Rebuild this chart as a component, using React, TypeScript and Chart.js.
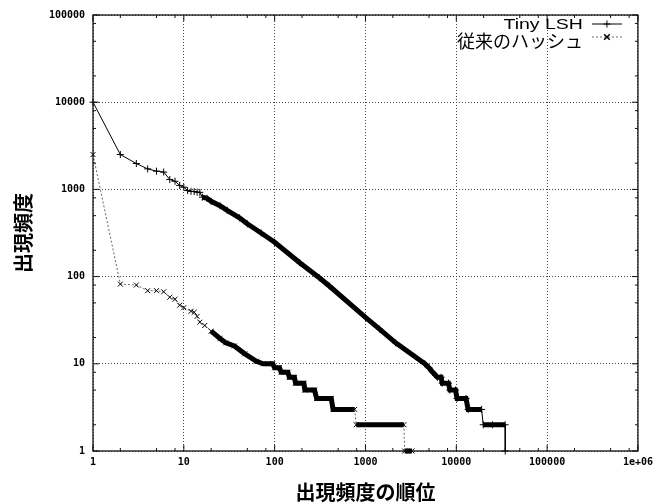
import React, { useEffect, useRef } from 'react';
import { Chart, registerables } from 'chart.js';

Chart.register(...registerables);

// ---------- data ----------
const TINY_LABEL = 'Tiny LSH';
const HASH_LABEL = '従来のハッシュ';
const X_TITLE = '出現頻度の順位';
const Y_TITLE = '出現頻度';

const X_TICKS = [1, 10, 100, 1000, 10000, 100000, 1000000];
const X_TICK_LABELS = ['1', '10', '100', '1000', '10000', '100000', '1e+06'];
const Y_TICKS = [1, 10, 100, 1000, 10000, 100000];
const Y_TICK_LABELS = ['1', '10', '100', '1000', '10000', '100000'];
const MINOR_MULTIPLIERS = [2, 5, 8];

const TINY_RANKS = [
  1, 2, 3, 4, 5, 6, 7, 8, 9, 10, 11, 12, 13, 14, 15, 16, 18, 20, 25, 30, 41, 50, 71, 100,
  189, 310, 400, 1000, 1430, 2150, 4500, 5000, 5500, 6200, 6800, 7000, 8200, 8500, 9800,
  10200, 12800, 13500, 19000, 19800, 25000, 34500, 34600,
];
const TINY_FREQ = [
  10000, 2510, 1980, 1720, 1620, 1580, 1300, 1240, 1110, 1060, 970, 950, 945, 930, 925, 815,
  790, 730, 650, 575, 472, 403, 316, 248, 144, 97, 78, 34, 25, 17.4, 10, 9, 8, 7, 7, 6, 6, 5, 5,
  4, 4, 3, 3, 2, 2, 2, 1,
];

const HASH_RANKS = [
  1, 2, 3, 4, 5, 6, 7, 8, 9, 10, 12, 13, 14, 15, 17, 20, 25, 29, 36, 47, 63, 75, 95, 100, 113,
  118, 140, 145, 165, 170, 210, 215, 275, 290, 420, 440, 760, 790, 2650, 2700, 3250,
];
const HASH_FREQ = [
  2510, 82, 80, 69, 69, 67, 58, 55, 47, 44, 40, 39, 35, 30, 27.5, 23.7, 19.5, 17.4, 16, 13, 10.7,
  10, 10, 9, 9, 8, 8, 7, 7, 6, 6, 5, 5, 4, 4, 3, 3, 2, 2, 1, 1,
];

// ---------- helpers ----------
const isThick = (ctx: any, ranks: number[], from: number) => {
  const r0 = ranks[ctx.p0DataIndex];
  if (r0 < from) return false;
  const dx = Math.abs(ctx.p1.x - ctx.p0.x);
  const dy = Math.abs(ctx.p1.y - ctx.p0.y);
  return !(dy > 12 && dx < 3);
};

const drawMarker = (ctx: CanvasRenderingContext2D, style: string, x: number, y: number, r: number) => {
  ctx.beginPath();
  if (style === 'cross') {
    ctx.moveTo(x - r, y);
    ctx.lineTo(x + r, y);
    ctx.moveTo(x, y - r);
    ctx.lineTo(x, y + r);
  } else {
    const d = r * 0.8;
    ctx.moveTo(x - d, y - d);
    ctx.lineTo(x + d, y + d);
    ctx.moveTo(x - d, y + d);
    ctx.lineTo(x + d, y - d);
  }
  ctx.stroke();
};

const framePlugin = {
  id: 'gnuplotFrame',
  afterDraw(chart: any) {
    const { ctx, chartArea } = chart;
    const { left, right, top, bottom } = chartArea;
    const xs = chart.scales.x;
    const ys = chart.scales.y;
    ctx.save();
    // frame
    ctx.strokeStyle = '#111';
    ctx.lineWidth = 1.3;
    ctx.setLineDash([]);
    ctx.strokeRect(left, top, right - left, bottom - top);

    // inward ticks
    ctx.lineWidth = 1;
    ctx.beginPath();
    X_TICKS.forEach((d) => {
      [1, ...MINOR_MULTIPLIERS].forEach((m) => {
        const v = d * m;
        if (v > X_TICKS[X_TICKS.length - 1]) return;
        const px = xs.getPixelForValue(v);
        const len = m === 1 ? 6 : 3;
        ctx.moveTo(px, bottom);
        ctx.lineTo(px, bottom - len);
        ctx.moveTo(px, top);
        ctx.lineTo(px, top + len);
      });
    });
    Y_TICKS.forEach((d) => {
      [1, ...MINOR_MULTIPLIERS].forEach((m) => {
        const v = d * m;
        if (v > Y_TICKS[Y_TICKS.length - 1]) return;
        const py = ys.getPixelForValue(v);
        const len = m === 1 ? 6 : 3;
        ctx.moveTo(left, py);
        ctx.lineTo(left + len, py);
        ctx.moveTo(right, py);
        ctx.lineTo(right - len, py);
      });
    });
    ctx.stroke();

    // legend (gnuplot style, top right inside plot)
    const ds = chart.data.datasets;
    const textRight = right - 55;
    const lineX0 = right - 46;
    const lineX1 = right - 16;
    const midX = (lineX0 + lineX1) / 2;
    ctx.fillStyle = '#000';
    ctx.textAlign = 'right';
    ctx.textBaseline = 'alphabetic';

    // entry 1
    ctx.save();
    ctx.font = '15px "Liberation Sans", Arial, sans-serif';
    ctx.translate(textRight, top + 14);
    ctx.scale(1.3, 1);
    ctx.fillText(ds[0].label, 0, 0);
    ctx.restore();
    ctx.strokeStyle = '#000';
    ctx.lineWidth = 1;
    ctx.setLineDash([]);
    ctx.beginPath();
    ctx.moveTo(lineX0, top + 9);
    ctx.lineTo(lineX1, top + 9);
    ctx.stroke();
    drawMarker(ctx, 'cross', midX, top + 9, 3.5);

    // entry 2
    ctx.font = '18px "Noto Sans CJK JP", sans-serif';
    ctx.fillText(ds[1].label, textRight, top + 33);
    ctx.strokeStyle = '#666';
    ctx.setLineDash([2, 2]);
    ctx.beginPath();
    ctx.moveTo(lineX0, top + 22);
    ctx.lineTo(lineX1, top + 22);
    ctx.stroke();
    ctx.setLineDash([]);
    ctx.strokeStyle = '#000';
    ctx.lineWidth = 1.5;
    drawMarker(ctx, 'crossRot', midX, top + 22, 3.5);

    ctx.restore();
  },
};

export default function App() {
  const canvasRef = useRef<HTMLCanvasElement | null>(null);

  useEffect(() => {
    const canvas = canvasRef.current;
    if (!canvas) return;

    const tickFont = { family: '"DejaVu Sans Mono", monospace', size: 10, weight: 'bold' as const };
    const titleFont = { family: '"Noto Sans CJK JP", sans-serif', size: 20, weight: 'bold' as const, lineHeight: 1 };

    const chart = new Chart(canvas, {
      type: 'scatter',
      data: {
        datasets: [
          {
            label: TINY_LABEL,
            data: TINY_RANKS.map((r, i) => ({ x: r, y: TINY_FREQ[i] })),
            showLine: true,
            borderColor: '#000',
            borderWidth: 1,
            pointStyle: 'cross',
            pointRadius: 3.5,
            pointBorderColor: '#000',
            pointBackgroundColor: '#000',
            pointBorderWidth: 1,
            clip: 10,
            segment: {
              borderWidth: (ctx: any) => (isThick(ctx, TINY_RANKS, 16) ? 5 : 1),
            },
          } as any,
          {
            label: HASH_LABEL,
            data: HASH_RANKS.map((r, i) => ({ x: r, y: HASH_FREQ[i] })),
            showLine: true,
            borderColor: '#666',
            borderWidth: 1,
            borderDash: [2, 2],
            pointStyle: 'crossRot',
            pointRadius: 3.5,
            pointBorderColor: '#000',
            pointBackgroundColor: '#000',
            pointBorderWidth: 1,
            clip: 10,
            segment: {
              borderWidth: (ctx: any) => (isThick(ctx, HASH_RANKS, 20) ? 5 : 1),
              borderDash: (ctx: any) => (isThick(ctx, HASH_RANKS, 20) ? [] : [2, 2]),
              borderColor: (ctx: any) => (isThick(ctx, HASH_RANKS, 20) ? '#000' : '#666'),
            },
          } as any,
        ],
      },
      options: {
        responsive: false,
        devicePixelRatio: 1,
        animation: false,
        events: [],
        layout: { padding: { top: 15, right: 20, left: 0, bottom: 0 } },
        plugins: {
          legend: { display: false },
          tooltip: { enabled: false },
        },
        scales: {
          x: {
            type: 'logarithmic',
            min: 1,
            max: 1000000,
            afterBuildTicks: (scale: any) => {
              scale.ticks = X_TICKS.map((v) => ({ value: v }));
            },
            afterFit: (scale: any) => {
              scale.height = 52;
            },
            ticks: {
              autoSkip: false,
              maxRotation: 0,
              padding: 5,
              color: '#000',
              font: tickFont,
              callback: (_v: any, i: number) => X_TICK_LABELS[i],
            },
            grid: { color: '#444', lineWidth: 1, drawTicks: false },
            border: { display: false, dash: [1, 2] },
            title: {
              display: true,
              text: X_TITLE,
              color: '#000',
              font: titleFont,
              padding: { top: 0, bottom: 1 },
            },
          },
          y: {
            type: 'logarithmic',
            min: 1,
            max: 100000,
            afterBuildTicks: (scale: any) => {
              scale.ticks = Y_TICKS.map((v) => ({ value: v }));
            },
            afterFit: (scale: any) => {
              scale.width = 93;
            },
            ticks: {
              autoSkip: false,
              padding: 8,
              color: '#000',
              font: tickFont,
              callback: (_v: any, i: number) => Y_TICK_LABELS[i],
            },
            grid: { color: '#444', lineWidth: 1, drawTicks: false },
            border: { display: false, dash: [1, 2] },
            title: {
              display: true,
              text: Y_TITLE,
              color: '#000',
              font: titleFont,
              padding: { top: 13, bottom: 0 },
            },
          },
        },
      },
      plugins: [framePlugin],
    } as any);

    return () => chart.destroy();
  }, []);

  return (
    <div style={{ position: 'fixed', left: 0, top: 0, width: 658, height: 503, background: '#fff' }}>
      <canvas ref={canvasRef} width={658} height={503} style={{ display: 'block' }} />
    </div>
  );
}
